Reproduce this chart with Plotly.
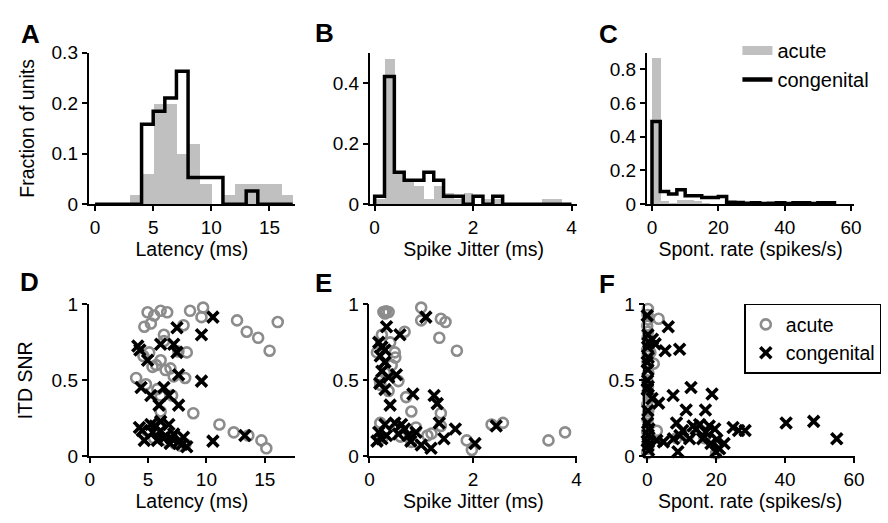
import plotly.graph_objects as go

# ---------------- data ----------------
# Histograms (fraction of units)
latency_edges = [0, 1, 2, 3, 4, 5, 6, 7, 8, 9, 10, 11, 12, 13, 14, 15, 16, 17]
latency_acute = [0, 0, 0, 0.02, 0.06, 0.2, 0.2, 0.1, 0.12, 0.04, 0, 0.02, 0.04, 0.04, 0.04, 0.04, 0.02]
latency_cong = [0, 0, 0, 0, 0.158, 0.184, 0.21, 0.263, 0.053, 0.053, 0.053, 0, 0, 0.026, 0, 0, 0]

jitter_edges = [0, 0.2, 0.4, 0.6, 0.8, 1.0, 1.2, 1.4, 1.6, 1.8, 2.0, 2.2, 2.4, 2.6, 2.8, 3.0, 3.2, 3.4, 3.6, 3.8, 4.0]
jitter_acute = [0.02, 0.48, 0.1, 0.08, 0.06, 0.02, 0.06, 0.04, 0.02, 0.04, 0, 0.02, 0.02, 0, 0, 0, 0, 0.02, 0.02, 0]
jitter_cong = [0.026, 0.421, 0.105, 0.079, 0.079, 0.105, 0.079, 0.026, 0.026, 0, 0.026, 0, 0.026, 0, 0, 0, 0, 0, 0, 0]

spont_edges = [0, 2.5, 5, 7.5, 10, 12.5, 15, 17.5, 20, 22.5, 25, 27.5, 30, 32.5, 35, 37.5, 40, 42.5, 45, 47.5, 50, 52.5, 55]
spont_acute = [0.87, 0.02, 0.01, 0.03, 0.03, 0.02, 0.01, 0, 0, 0, 0, 0, 0, 0, 0, 0, 0, 0, 0, 0, 0, 0]
spont_cong = [0.49, 0.075, 0.06, 0.085, 0.05, 0.05, 0.04, 0.04, 0.045, 0.012, 0.01, 0.005, 0.008, 0.004,
              0.006, 0.008, 0.004, 0.008, 0.008, 0.004, 0.008, 0.008]

# Scatter: ITD SNR vs latency
lat_acute_x = [4.96, 6.08, 6.64, 5.52, 5.24, 4.68, 8.6, 9.72, 9.58, 8.04, 6.36, 6.36, 5.1, 5.38, 6.08, 6.5,
               6.92, 8.32, 7.2, 8.18, 3.98, 4.82, 5.8, 6.08, 7.06, 6.08, 8.88, 11.12, 12.63, 13.46, 14.44,
               15.42, 16.12, 12.35, 13.6, 14.72, 15.14, 5.5, 6.6, 7.8, 8.2, 6.0, 4.9, 7.3, 4.6, 5.7, 7.6]
lat_acute_y = [0.948, 0.958, 0.948, 0.927, 0.874, 0.853, 0.958, 0.979, 0.916, 0.863, 0.80, 0.758, 0.684,
               0.589, 0.632, 0.568, 0.579, 0.684, 0.526, 0.516, 0.516, 0.474, 0.442, 0.40, 0.40, 0.295,
               0.284, 0.21, 0.895, 0.82, 0.78, 0.695, 0.884, 0.158, 0.137, 0.105, 0.053, 0.12, 0.1, 0.07,
               0.08, 0.2, 0.17, 0.084, 0.66, 0.6, 0.69]
lat_cong_x = [10.56, 7.48, 9.58, 4.12, 6.08, 7.2, 7.48, 4.96, 7.62, 9.58, 4.4, 5.24, 6.36, 6.78, 5.94, 7.62,
              4.26, 5.24, 6.08, 6.78, 4.68, 6.08, 5.8, 7.2, 8.04, 8.32, 7.62, 10.56, 6.9, 5.4, 6.5, 13.3,
              4.5, 5.6, 6.3, 7.0, 7.9, 4.3]
lat_cong_y = [0.916, 0.846, 0.80, 0.726, 0.737, 0.737, 0.684, 0.632, 0.537, 0.495, 0.453, 0.40, 0.453, 0.40,
              0.337, 0.337, 0.19, 0.21, 0.23, 0.21, 0.105, 0.168, 0.105, 0.147, 0.126, 0.063, 0.095, 0.10,
              0.084, 0.158, 0.13, 0.137, 0.17, 0.2, 0.12, 0.12, 0.08, 0.70]

# Scatter: ITD SNR vs spike jitter
jit_acute_x = [0.27, 0.32, 0.37, 0.3, 1.0, 1.0, 1.38, 1.47, 1.35, 1.69, 0.68, 0.24, 0.145, 0.49, 0.43, 0.21,
               0.2, 0.37, 0.56, 0.71, 0.81, 0.21, 1.38, 1.38, 1.12, 1.2, 0.81, 1.88, 1.98, 2.36, 2.58, 3.46,
               3.78, 0.3, 0.4, 0.6, 0.9, 0.25, 0.5, 0.56]
jit_acute_y = [0.95, 0.955, 0.95, 0.94, 0.979, 0.895, 0.905, 0.884, 0.78, 0.695, 0.82, 0.80, 0.684, 0.684,
               0.6, 0.47, 0.5, 0.43, 0.495, 0.39, 0.295, 0.22, 0.284, 0.2, 0.137, 0.15, 0.095, 0.105, 0.042,
               0.21, 0.22, 0.105, 0.158, 0.55, 0.75, 0.13, 0.19, 0.12, 0.65, 0.19]
jit_cong_x = [1.09, 0.33, 0.59, 0.18, 0.24, 0.3, 0.21, 0.3, 0.24, 0.37, 0.2, 0.3, 0.52, 0.4, 0.84, 1.25,
              1.31, 1.35, 1.66, 1.44, 2.04, 2.45, 0.18, 0.24, 0.33, 0.62, 0.68, 0.56, 0.75, 0.9, 1.0, 1.19,
              0.49, 0.145, 0.3, 0.8]
jit_cong_y = [0.916, 0.853, 0.80, 0.75, 0.72, 0.70, 0.66, 0.62, 0.56, 0.52, 0.48, 0.44, 0.537, 0.337, 0.41,
              0.4, 0.347, 0.22, 0.18, 0.116, 0.084, 0.2, 0.158, 0.116, 0.137, 0.21, 0.18, 0.147, 0.137,
              0.158, 0.074, 0.053, 0.22, 0.1, 0.21, 0.1]

# Scatter: ITD SNR vs spontaneous rate
spo_acute_x = [0.2, 0.1, 0.3, 0.0, 0.2, 0.1, 0.3, 0.0, 0.2, 0.1, 0.3, 0.0, 0.2, 0.1, 0.3, 0.0, 0.2, 0.1,
               0.3, 0.0, 0.2, 0.1, 0.3, 0.0, 3.3, 1.9, 2.8, 0.5, 0.3, 0.9, 8.5, 12.0, 15.5, 16.6, 20.0]
spo_acute_y = [0.97, 0.93, 0.9, 0.86, 0.82, 0.78, 0.74, 0.7, 0.66, 0.62, 0.55, 0.5, 0.46, 0.42, 0.38, 0.34,
               0.28, 0.24, 0.2, 0.16, 0.12, 0.08, 0.05, 0.02, 0.905, 0.61, 0.168, 0.4, 0.3, 0.684, 0.12,
               0.14, 0.17, 0.12, 0.02]
spo_cong_x = [0.0, 0.2, 0.5, 0.1, 0.3, 0.0, 0.2, 0.1, 0.3, 0.0, 0.2, 0.1, 0.5, 0.3, 0.0, 0.2, 0.4,
              6.1, 1.5, 2.3, 5.2, 9.4, 12.7, 18.8, 7.5, 3.3, 1.4, 11.3, 16.9, 8.5, 10.3, 13.3, 15.2, 18.0,
              19.6, 24.9, 26.5, 28.4, 40.3, 48.3, 55.0, 8.9, 19.9, 22.3, 21.0, 2.8, 4.7, 7.6, 9.5, 12.3,
              16.1, 17.0, 14.2, 18.5, 20.2]
spo_cong_y = [0.926, 0.8, 0.75, 0.72, 0.65, 0.62, 0.57, 0.5, 0.46, 0.44, 0.3, 0.22, 0.18, 0.14, 0.1, 0.07,
              0.04, 0.853, 0.77, 0.74, 0.695, 0.705, 0.453, 0.41, 0.4, 0.35, 0.38, 0.305, 0.305, 0.22,
              0.17, 0.2, 0.21, 0.2, 0.18, 0.19, 0.17, 0.17, 0.22, 0.23, 0.116, 0.03, 0.03, 0.084, 0.05,
              0.105, 0.095, 0.116, 0.137, 0.116, 0.116, 0.158, 0.18, 0.084, 0.11]

GRAY_BAR = "#c0c0c0"
GRAY_PT = "#8c8c8c"
FONT = "Liberation Sans, Arial, sans-serif"


def centers(edges):
    return [(edges[i] + edges[i + 1]) / 2 for i in range(len(edges) - 1)]


def widths(edges):
    return [edges[i + 1] - edges[i] for i in range(len(edges) - 1)]


def step(edges, vals):
    n = len(vals)
    xs = [edges[0]] + list(edges[:n]) + [edges[n]]
    ys = [0] + list(vals) + [0]
    return xs, ys


fig = go.Figure()

hists = [
    (latency_edges, latency_acute, latency_cong, "x", "y"),
    (jitter_edges, jitter_acute, jitter_cong, "x2", "y2"),
    (spont_edges, spont_acute, spont_cong, "x3", "y3"),
]
for edges, ac, cg, xa, ya in hists:
    fig.add_trace(go.Bar(x=centers(edges)[:len(ac)], y=ac, width=widths(edges)[:len(ac)],
                         marker=dict(color=GRAY_BAR, line=dict(width=0)),
                         xaxis=xa, yaxis=ya, showlegend=False))
    sx, sy = step(edges, cg)
    fig.add_trace(go.Scatter(x=sx, y=sy, mode="lines", line=dict(color="black", width=3.5, shape="hv"),
                             xaxis=xa, yaxis=ya, showlegend=False, cliponaxis=False))

# legend proxies for panel C
fig.add_trace(go.Scatter(x=[None], y=[None], mode="lines", name="acute",
                         line=dict(color=GRAY_BAR, width=9), xaxis="x3", yaxis="y3", legend="legend"))
fig.add_trace(go.Scatter(x=[None], y=[None], mode="lines", name="congenital",
                         line=dict(color="black", width=4.5), xaxis="x3", yaxis="y3", legend="legend"))

scat = [
    (lat_acute_x, lat_acute_y, lat_cong_x, lat_cong_y, "x4", "y4", False),
    (jit_acute_x, jit_acute_y, jit_cong_x, jit_cong_y, "x5", "y5", False),
    (spo_acute_x, spo_acute_y, spo_cong_x, spo_cong_y, "x6", "y6", True),
]
for ax_, ay_, cx_, cy_, xa, ya, leg in scat:
    fig.add_trace(go.Scatter(x=ax_, y=ay_, mode="markers", name="acute",
                             marker=dict(symbol="circle-open", size=10, color=GRAY_PT,
                                         line=dict(width=2.6, color=GRAY_PT)),
                             xaxis=xa, yaxis=ya, showlegend=leg, legend="legend2", cliponaxis=False))
    fig.add_trace(go.Scatter(x=cx_, y=cy_, mode="markers", name="congenital",
                             marker=dict(symbol="x-thin", size=11, color="black",
                                         line=dict(width=3.6, color="black")),
                             xaxis=xa, yaxis=ya, showlegend=leg, legend="legend2", cliponaxis=False))

W, H = 888, 523


def xd(a, b):
    return [a / W, b / W]


def yd(top, bottom):
    return [1 - bottom / H, 1 - top / H]


base = dict(showline=True, linecolor="black", linewidth=1.6, ticks="outside", ticklen=5, tickwidth=1.5,
            tickcolor="black", showgrid=False, zeroline=False,
            tickfont=dict(size=19, color="black", family=FONT))
tfont = dict(size=19.5, color="black", family=FONT)

top_y = yd(44.3, 202.3)
bot_y = yd(306.7, 465)

layout = dict(
    width=W, height=H, autosize=False, margin=dict(l=0, r=0, t=0, b=0),
    paper_bgcolor="white", plot_bgcolor="white", font=dict(family=FONT, color="black"),
    bargap=0,
    xaxis=dict(base, domain=xd(85, 295), range=[-0.56, 17.2], tickvals=[0, 5, 10, 15], anchor="y",
               title=dict(text="Latency (ms)", font=tfont, standoff=2)),
    yaxis=dict(base, domain=top_y, range=[0, 0.3], tickvals=[0, 0.1, 0.2, 0.3], anchor="x",
               title=dict(text="Fraction of units", font=tfont, standoff=12)),
    xaxis2=dict(base, domain=xd(371, 582.3), range=[-0.1, 4.12], tickvals=[0, 2, 4], anchor="y2",
                title=dict(text="Spike Jitter (ms)", font=tfont, standoff=2)),
    yaxis2=dict(base, domain=top_y, range=[0, 0.5], tickvals=[0, 0.2, 0.4], anchor="x2"),
    xaxis3=dict(base, domain=xd(652.7, 864), range=[-1.6, 61], tickvals=[0, 20, 40, 60], anchor="y3",
                title=dict(text="Spont. rate (spikes/s)", font=tfont, standoff=2)),
    yaxis3=dict(base, domain=top_y, range=[0, 0.9], tickvals=[0, 0.2, 0.4, 0.6, 0.8], anchor="x3"),
    xaxis4=dict(base, domain=xd(85, 295), range=[-0.1, 17.6], tickvals=[0, 5, 10, 15], anchor="y4",
                title=dict(text="Latency (ms)", font=tfont, standoff=4)),
    yaxis4=dict(base, domain=bot_y, range=[0, 1], tickvals=[0, 0.5, 1], anchor="x4",
                title=dict(text="ITD SNR", font=tfont, standoff=14)),
    xaxis5=dict(base, domain=xd(370.7, 582.3), range=[0, 4.02], tickvals=[0, 2, 4], anchor="y5",
                title=dict(text="Spike Jitter (ms)", font=tfont, standoff=4)),
    yaxis5=dict(base, domain=bot_y, range=[0, 1], tickvals=[0, 0.5, 1], anchor="x5"),
    xaxis6=dict(base, domain=xd(651.5, 864.3), range=[-0.5, 60.2], tickvals=[0, 20, 40, 60], anchor="y6",
                title=dict(text="Spont. rate (spikes/s)", font=tfont, standoff=4)),
    yaxis6=dict(base, domain=bot_y, range=[0, 1], tickvals=[0, 0.5, 1], anchor="x6"),
    legend=dict(x=745 / W, y=1 - 22 / H, xanchor="left", yanchor="top", font=dict(size=20, family=FONT),
                bgcolor="rgba(0,0,0,0)", itemwidth=30, tracegroupgap=0),
    legend2=dict(x=752 / W, y=1 - 306 / H, xanchor="left", yanchor="top", font=dict(size=19.5, family=FONT),
                 bgcolor="white", bordercolor="black", borderwidth=1.5, itemwidth=30, tracegroupgap=0),
)
fig.update_layout(**layout)

letters = [("A", 26, 25), ("B", 325, 24), ("C", 614, 25), ("D", 25, 283), ("E", 324, 284), ("F", 612, 285)]
for t, px, py in letters:
    fig.add_annotation(text="<b>%s</b>" % t, x=px / W, y=1 - py / H, xref="paper", yref="paper",
                       showarrow=False, xanchor="center", yanchor="middle",
                       font=dict(size=26, color="black", family=FONT))

fig.write_html("out.html")
